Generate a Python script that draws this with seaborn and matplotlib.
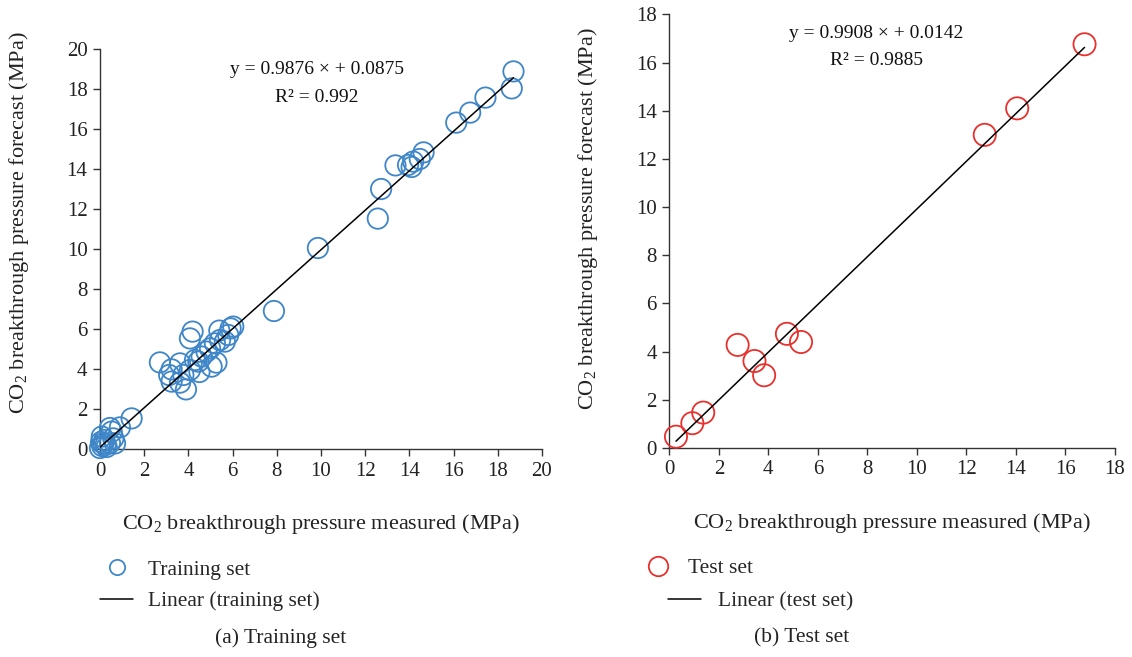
import numpy as np
import pandas as pd
import matplotlib
matplotlib.use("Agg")
import matplotlib.pyplot as plt
from matplotlib.lines import Line2D
import seaborn as sns

# ---------------- data ----------------
train_measured = [0.0, 0.05, 0.1, 0.15, 0.2, 0.3, 0.08, 0.45, 0.6, 0.68, 0.53, 0.45, 0.9, 1.43, 0.25,
                  2.71, 3.24, 3.13, 3.24, 3.62, 3.89, 3.77, 4.07, 4.07, 4.19, 4.45, 4.6, 4.82, 4.98,
                  5.05, 5.27, 5.2, 5.43, 5.4, 5.65, 5.8, 5.91, 6.03, 4.5, 3.62, 4.3,
                  7.87, 9.86, 12.57, 12.72, 13.37, 13.94, 14.1, 14.17, 14.47, 14.64,
                  16.12, 16.75, 17.44, 18.63, 18.71]
train_forecast = [0.05, 0.35, 0.15, 0.28, 0.45, 0.1, 0.62, 0.3, 0.53, 0.28, 0.87, 1.05, 1.08, 1.53, 0.2,
                  4.33, 3.98, 3.7, 3.37, 3.32, 2.98, 3.7, 3.95, 5.53, 5.87, 4.37, 4.62, 4.87, 5.03,
                  4.12, 4.32, 5.28, 5.45, 5.92, 5.37, 5.7, 6.03, 6.12, 3.85, 4.28, 4.45,
                  6.9, 10.05, 11.52, 13.0, 14.18, 14.2, 14.1, 14.37, 14.5, 14.83,
                  16.32, 16.82, 17.57, 18.03, 18.88]

test_measured = [0.27, 0.93, 1.37, 2.76, 3.44, 3.83, 4.75, 5.32, 12.74, 14.05, 16.77]
test_forecast = [0.47, 1.03, 1.47, 4.28, 3.61, 3.02, 4.74, 4.40, 13.0, 14.1, 16.76]

train_slope, train_intercept, train_r2 = 0.9876, 0.0875, "0.992"
test_slope, test_intercept, test_r2 = 0.9908, 0.0142, "0.9885"

train_ticks = [0, 2, 4, 6, 8, 10, 12, 14, 16, 18, 20]
test_ticks = [0, 2, 4, 6, 8, 10, 12, 14, 16, 18]

# ---------------- style ----------------
sns.set_theme(style="ticks")
plt.rcParams["font.family"] = ["Liberation Serif", "DejaVu Serif"]
plt.rcParams["mathtext.fontset"] = "custom"
plt.rcParams["mathtext.rm"] = "Liberation Serif"
plt.rcParams["mathtext.it"] = "Liberation Serif:italic"

BLUE = "#3f86c8"
RED = "#e8302c"
AX_COL = "#333333"
TICK_FS = 15
LABEL_FS = 16
LEG_FS = 15.5
ANN_FS = 14

fig = plt.figure(figsize=(11.32, 6.57), dpi=100)
ax1 = fig.add_axes([100 / 1132, 1 - 449 / 657, 442 / 1132, 400 / 657])
ax2 = fig.add_axes([669.3 / 1132, 1 - 448 / 657, 445.7 / 1132, 433.6 / 657])


def draw(ax, xs, ys, slope, intercept, r2, color, size, ticks, lim, eq_xy, r2_xy, xlab_y, ylab_x, ylab_y):
    df = pd.DataFrame({"measured": xs, "forecast": ys})
    sns.scatterplot(data=df, x="measured", y="forecast", ax=ax, s=size, marker="o",
                    fc="none", ec=color, linewidth=1.3, clip_on=False, zorder=3)
    xl = np.array([min(xs), max(xs)])
    line_df = pd.DataFrame({"x": xl, "y": slope * xl + intercept})
    sns.lineplot(data=line_df, x="x", y="y", ax=ax, color="black", lw=1.1, zorder=4)
    ax.set_xlim(lim)
    ax.set_ylim(lim)
    ax.set_xticks(ticks)
    ax.set_yticks(ticks)
    for s in ["top", "right"]:
        ax.spines[s].set_visible(False)
    for s in ["left", "bottom"]:
        ax.spines[s].set_color(AX_COL)
        ax.spines[s].set_linewidth(1.0)
    ax.tick_params(direction="out", length=5, width=1, color=AX_COL, labelsize=TICK_FS,
                   labelcolor="#222222", pad=4)
    ax.set_xlabel("CO$_2$ breakthrough pressure measured (MPa)", fontsize=LABEL_FS, color="#222222")
    ax.set_ylabel("CO$_2$ breakthrough pressure forecast (MPa)", fontsize=LABEL_FS, color="#222222")
    ax.xaxis.set_label_coords(0.5, xlab_y)
    ax.yaxis.set_label_coords(ylab_x, ylab_y)
    ax.text(eq_xy[0], eq_xy[1], f"y = {slope:.4f} \u00d7 + {intercept:.4f}", fontsize=ANN_FS,
            ha="center", va="center", color="#111111")
    ax.text(r2_xy[0], r2_xy[1], f"R\u00b2 = {r2}", fontsize=ANN_FS, ha="center", va="center",
            color="#111111")


draw(ax1, train_measured, train_forecast, train_slope, train_intercept, train_r2, BLUE, 215,
     train_ticks, (0, 20), (9.8, 18.95), (9.8, 17.55), -0.158, -0.155, 0.567)
draw(ax2, test_measured, test_forecast, test_slope, test_intercept, test_r2, RED, 255,
     test_ticks, (0, 18), (8.37, 17.2), (8.37, 16.1), -0.146, -0.155, 0.53)

# ---------------- legends ----------------
circ_train = Line2D([], [], ls="none", marker="o", ms=11, mfc="none", mec=BLUE, mew=1.3)
lin = Line2D([], [], color="black", lw=1.1)
fig.legend([circ_train, lin], ["Training set", "Linear (training set)"],
           loc="center left", bbox_to_anchor=(100 / 1132, 1 - 585.5 / 657),
           frameon=False, fontsize=LEG_FS, handlelength=1.55, handletextpad=0.7,
           borderpad=0, borderaxespad=0, labelspacing=0.55)

circ_test = Line2D([], [], ls="none", marker="o", ms=14, mfc="none", mec=RED, mew=1.3)
fig.legend([circ_test], ["Test set"], loc="center left",
           bbox_to_anchor=(643 / 1132, 1 - 568 / 657), frameon=False, fontsize=LEG_FS,
           handlelength=1.4, handletextpad=0.7, borderpad=0, borderaxespad=0)
fig.legend([lin], ["Linear (test set)"], loc="center left",
           bbox_to_anchor=(668 / 1132, 1 - 601 / 657), frameon=False, fontsize=LEG_FS,
           handlelength=1.55, handletextpad=0.75, borderpad=0, borderaxespad=0)

fig.text(281 / 1132, 1 - 638 / 657, "(a) Training set", ha="center", va="center",
         fontsize=LEG_FS, color="#222222")
fig.text(802 / 1132, 1 - 638 / 657, "(b) Test set", ha="center", va="center",
         fontsize=LEG_FS, color="#222222")

fig.savefig("out.png", dpi=100, facecolor="white")
